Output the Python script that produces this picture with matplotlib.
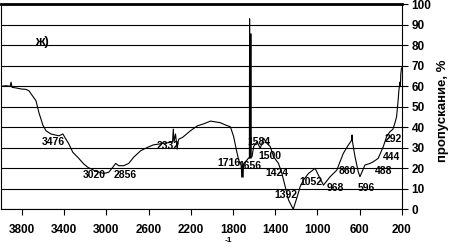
import matplotlib
matplotlib.use("Agg")
import matplotlib.pyplot as plt

plt.rcParams["font.family"] = ["Liberation Sans", "DejaVu Sans"]

# IR spectrum: wavenumber (cm-1) vs transmittance (%)
wavenumber = [
    3998, 3951, 3913, 3904, 3894, 3857, 3809, 3762, 3734, 3696, 3668, 3639,
    3602, 3573, 3526, 3450, 3413, 3384, 3356, 3318, 3271, 3214, 3176, 3101,
    3025, 2978, 2940, 2912, 2884, 2836, 2789, 2742, 2676, 2609, 2553, 2458,
    2392, 2373, 2366, 2359, 2345, 2335, 2329, 2321, 2314, 2279, 2203, 2137,
    2080, 2014, 1920, 1872, 1825, 1794, 1768, 1747, 1724, 1715, 1699, 1667,
    1652, 1645, 1643, 1641, 1620, 1605, 1573, 1542, 1526, 1510, 1478, 1447,
    1416, 1369, 1337, 1305, 1274, 1233, 1227, 1192, 1164, 1133, 1085, 1022,
    991, 943, 880, 817, 786, 755, 707, 675, 672, 668, 644, 613, 597, 571,
    550, 502, 471, 424, 376, 345, 313, 285, 266, 250, 235, 228, 219, 214,
    210, 203,
]
transmittance = [
    60.0, 60.3, 60.0, 62.0, 59.5, 59.2, 58.7, 58.5, 57.8, 55.0, 53.0, 47.0,
    41.0, 38.3, 36.7, 35.8, 36.7, 34.2, 31.8, 27.7, 25.3, 22.0, 20.4, 18.5,
    17.4, 18.0, 20.4, 22.3, 21.2, 21.2, 22.3, 25.3, 28.5, 30.2, 31.4, 32.1,
    32.6, 33.0, 39.1, 33.0, 36.7, 32.0, 29.3, 33.0, 34.2, 35.0, 38.3, 40.7,
    41.6, 43.0, 42.2, 41.1, 40.2, 35.4, 28.9, 24.0, 21.5, 15.8, 22.3, 24.0,
    25.0, 25.0, 93.0, 25.0, 25.6, 30.5, 32.9, 29.7, 32.1, 34.6, 32.1, 30.5,
    25.6, 22.3, 17.4, 10.9, 4.4, 0.3, 0.3, 6.0, 10.9, 14.2, 17.4, 19.9,
    16.6, 11.7, 15.8, 19.0, 23.1, 27.2, 31.3, 33.7, 36.2, 33.0, 25.6, 18.2,
    15.8, 19.0, 21.5, 22.3, 23.1, 24.8, 30.5, 35.4, 37.8, 39.0, 42.0, 45.1,
    53.3, 58.0, 62.0, 60.0, 66.0, 69.0,
]

# bands drawn heavier in the original
heavy_wn = [1643, 1715]
heavy_lo = [25.0, 15.8]
heavy_hi = [86.0, 21.5]

peak_labels = ["3476", "3020", "2856", "2332", "1716", "1656", "1584", "1500",
               "1424", "1392", "1052", "968", "860", "596", "488", "444", "292"]
# label anchor points (wavenumber, %) where each number sits on the chart
label_wn = [3507, 3115, 2822, 2416, 1839, 1641, 1551, 1452, 1381, 1296, 1065,
            833, 720, 535, 375, 299, 279]
label_t = [32.8, 16.6, 16.6, 30.8, 22.5, 21.0, 32.8, 25.9, 17.6, 6.8, 13.2,
           10.3, 18.6, 10.3, 18.6, 25.4, 34.2]

x_ticks = [3800, 3400, 3000, 2600, 2200, 1800, 1400, 1000, 600, 200]
y_ticks = list(range(0, 101, 10))

fig = plt.figure(figsize=(4.5, 2.48), dpi=100)
ax = fig.add_axes([0.002, 0.157, 0.891, 0.825])

ax.plot(wavenumber, transmittance, color="black", linewidth=0.8)
ax.vlines(heavy_wn, heavy_lo, heavy_hi, color="black", linewidth=1.8)

for text, wn, t in zip(peak_labels, label_wn, label_t):
    ax.text(wn, t, text, fontsize=7.5, fontweight="bold", ha="center", va="center")

ax.text(3606, 81.7, "ж)", fontsize=9.5, fontweight="bold", ha="center", va="center")

ax.set_xlim(4000, 200)
ax.set_ylim(0, 100)
ax.set_xticks(x_ticks)
ax.set_yticks(y_ticks)
ax.yaxis.tick_right()
ax.tick_params(axis="both", direction="out", length=4, width=0.8,
               labelsize=8.5, colors="black")
ax.tick_params(axis="x", pad=7)
ax.tick_params(axis="y", pad=3)
for lab in ax.get_xticklabels() + ax.get_yticklabels():
    lab.set_fontweight("bold")

ax.grid(True, axis="y", color="black", linewidth=0.8)
ax.set_axisbelow(True)
for side in ("left", "bottom", "right"):
    ax.spines[side].set_linewidth(0.8)
ax.spines["top"].set_linewidth(2.0)

fig.text(443 / 450, 1 - 111 / 248, "пропускание, %", rotation=90,
         fontsize=9.5, fontweight="bold", ha="center", va="center")
fig.text(228 / 450, 1 - 241 / 248, "-1", fontsize=6, fontweight="bold",
         ha="center", va="center")

fig.savefig("out.png", dpi=100)
